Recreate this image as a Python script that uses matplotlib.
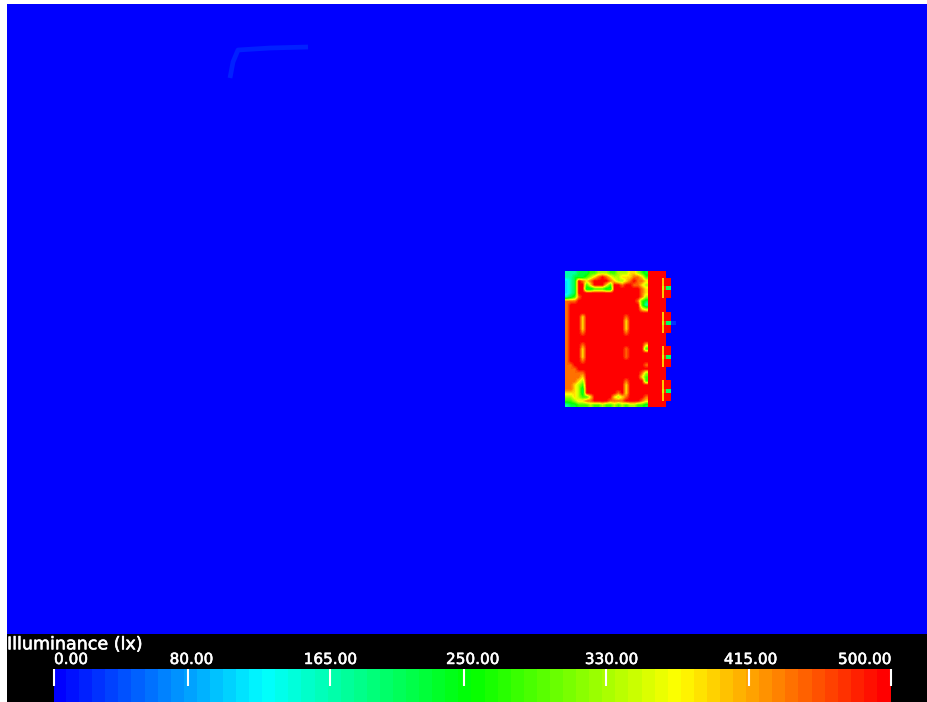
import numpy as np
import matplotlib
matplotlib.use("Agg")
import matplotlib.pyplot as plt
import matplotlib.patheffects as pe
from matplotlib.cm import ScalarMappable
from matplotlib.colors import LinearSegmentedColormap, Normalize

# =============================================================================
# Data
# =============================================================================
TITLE = "Illuminance (lx)"
VMIN = 0.0
VMAX = 500.0
TICK_VALUES = [0, 80, 165, 245, 330, 415, 500]
LABEL_VALUES = [0, 82, 165, 250, 333, 416, 500]
TICK_LABELS = ["0.00", "80.00", "165.00", "250.00", "330.00", "415.00", "500.00"]

# main room, one digit per cell, digit d stands for about d * 500 / 9 lx
ROOM_ROWS = [
    "333444556665566677654",
    "334445678987667778875",
    "234987899998766789887",
    "234995799975998998876",
    "234994455544999999987",
    "234999999999999999987",
    "345899999999999999986",
    "888999999999999999854",
    "899999999999999999953",
    "899999999999999999976",
    "899999999999999999999",
    "899979999999999899999",
    "899979999999999799999",
    "899979999999999799999",
    "899979999999999799999",
    "899989999999999899999",
    "899999999999999999999",
    "899999999999999999999",
    "899989999999999999997",
    "899979999999999899995",
    "899979999999999899999",
    "899979999999999899999",
    "899989999999999999999",
    "889999999999999999998",
    "888999999999999999999",
    "888889999999999999986",
    "888879999999999999975",
    "888769999999999899995",
    "887659999999999799999",
    "887649999999999799999",
    "777649999999989799999",
    "667655799999767899998",
    "556778899998888999987",
    "344555655655656566554",
]

# side rooms on the right, lx per block, sharp edged
SIDE_X = [648, 662, 664, 666, 671, 676]
SIDE_Y = [271, 278, 286, 290, 298, 312, 321, 325, 333, 346, 355, 359, 367,
          380, 389, 393, 401, 407]
PLAIN = [500, 500, 500, 0, 0]
NOTCH = [500, 400, 500, 500, 0]
WAIST = [500, 350, 470, 200, 0]
SPOT = [500, 350, 470, 200, 25]
SIDE_LX = [PLAIN, NOTCH, WAIST, NOTCH, PLAIN, NOTCH, SPOT, NOTCH, PLAIN,
           NOTCH, WAIST, NOTCH, PLAIN, NOTCH, WAIST, NOTCH, PLAIN]

STREAK_X = [230, 233, 238, 270, 308]
STREAK_Y = [78, 62, 50, 48, 47]
STREAK_LX = 20.0

room = np.array([[int(c) for c in row] for row in ROOM_ROWS]) * VMAX / 9.0

W, H = 928, 702


def px_axes(fig, x0, y0, x1, y1):
    # pixel box (y going down) to a figure axes
    a = fig.add_axes([x0 / W, 1 - y1 / H, (x1 - x0) / W, (y1 - y0) / H])
    return a


# =============================================================================
# Plot
# =============================================================================
cmap = LinearSegmentedColormap.from_list(
    "lux", ["#0000ff", "#00ffff", "#00ff00", "#ffff00", "#ff0000"], N=64)
norm = Normalize(VMIN, VMAX)
stroke = [pe.withStroke(linewidth=0.4, foreground="white")]

fig = plt.figure(figsize=(W / 100, H / 100), dpi=100, facecolor="white")

ax = px_axes(fig, 7, 4, 929, 634)
ax.set_facecolor(cmap(0.0))
ax.imshow(room, cmap=cmap, norm=norm, extent=(565, 648, 407, 271),
          interpolation="bilinear", aspect="auto")
ax.pcolormesh(SIDE_X, SIDE_Y, np.array(SIDE_LX), cmap=cmap, norm=norm,
              shading="flat", antialiased=False)
ax.plot(STREAK_X, STREAK_Y, color=cmap(norm(STREAK_LX)), lw=3.4,
        solid_capstyle="butt")
ax.set_xlim(7, 929)
ax.set_ylim(634, 4)
ax.set_xticks([])
ax.set_yticks([])
for s in ax.spines.values():
    s.set_visible(False)

panel = px_axes(fig, 7, 634, 929, 703)
panel.set_facecolor("black")
panel.set_xticks([])
panel.set_yticks([])
for s in panel.spines.values():
    s.set_visible(False)
panel.text(0, 0.85, TITLE, transform=panel.transAxes, color="white",
           fontsize=12.6, ha="left", va="center", family="DejaVu Sans",
           path_effects=stroke)

cax = px_axes(fig, 54, 669, 891, 703)
cb = fig.colorbar(ScalarMappable(norm=norm, cmap=cmap), cax=cax,
                  orientation="horizontal", drawedges=False)
cb.outline.set_visible(False)
cb.set_ticks(TICK_VALUES, labels=[""] * len(TICK_VALUES))
cax.tick_params(axis="x", direction="in", bottom=False, top=True, length=12,
                width=1.5, color="white", labelbottom=False, labeltop=False, pad=0)
cb.solids.set_edgecolor("face")

for i, (val, lab) in enumerate(zip(LABEL_VALUES, TICK_LABELS)):
    ha = "left" if i == 0 else "right" if i == len(LABEL_VALUES) - 1 else "center"
    cax.text(val, 1.06, lab, transform=cax.get_xaxis_transform(), color="white",
             fontsize=11, ha=ha, va="bottom", family="DejaVu Sans", clip_on=False,
             path_effects=stroke)

fig.savefig("out.png", dpi=100, facecolor="white")
